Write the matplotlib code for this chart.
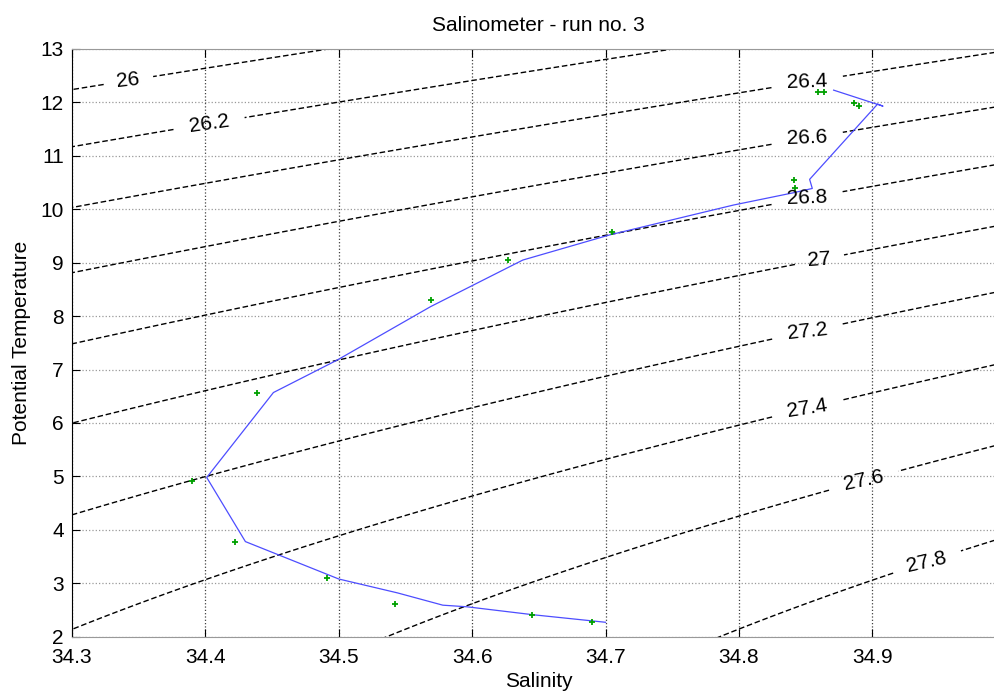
import numpy as np
import matplotlib.pyplot as plt

plt.rcParams['font.family'] = ['Liberation Sans', 'DejaVu Sans']

# CTD profile (potential temperature vs salinity), surface to bottom
ctd_sal = [34.871, 34.908, 34.904, 34.853, 34.855, 34.841, 34.796, 34.703,
           34.638, 34.569, 34.499, 34.451, 34.401, 34.430, 34.456, 34.500,
           34.544, 34.578, 34.596, 34.646, 34.700]
ctd_theta = [12.23, 11.93, 11.97, 10.56, 10.39, 10.31, 10.08, 9.52,
             9.05, 8.18, 7.18, 6.57, 4.98, 3.78, 3.52, 3.08,
             2.82, 2.59, 2.56, 2.41, 2.27]

# bottle samples run on the salinometer
btl_sal = [34.859, 34.864, 34.886, 34.890, 34.841, 34.842, 34.705, 34.627,
           34.569, 34.439, 34.390, 34.422, 34.491, 34.542, 34.645, 34.690]
btl_theta = [12.20, 12.20, 11.98, 11.94, 10.55, 10.39, 9.58, 9.06,
             8.31, 6.56, 4.91, 3.77, 3.09, 2.61, 2.41, 2.27]

sigma_levels = [26.0, 26.2, 26.4, 26.6, 26.8, 27.0, 27.2, 27.4, 27.6, 27.8]
label_pos = [(34.343, 12.33), (34.403, 11.58), (34.852, 12.29), (34.852, 11.24),
             (34.852, 10.12), (34.861, 9.0), (34.852, 7.65), (34.852, 6.2),
             (34.895, 4.82), (34.943, 3.29)]
label_rot = [6, 8, 2, 2, 2, 4, 6, 9, 12, 13]


def sigma_theta(S, T):
    # UNESCO EOS-80 at zero pressure, minus 1000
    rw = (999.842594 + 6.793952e-2 * T - 9.095290e-3 * T**2 + 1.001685e-4 * T**3
          - 1.120083e-6 * T**4 + 6.536332e-9 * T**5)
    a = 0.824493 - 4.0899e-3 * T + 7.6438e-5 * T**2 - 8.2467e-7 * T**3 + 5.3875e-9 * T**4
    b = -5.72466e-3 + 1.0227e-4 * T - 1.6546e-6 * T**2
    return rw + a * S + b * S**1.5 + 4.8314e-4 * S**2 - 1000.0


fig = plt.figure(figsize=(9.95, 6.95), dpi=100)
ax = fig.add_axes([72 / 995, 1 - 636.7 / 695, 933.7 / 995, (636.7 - 49) / 695])

sg, tg = np.meshgrid(np.linspace(34.2, 35.1, 400), np.linspace(1.5, 13.5, 400))
cs = ax.contour(sg, tg, sigma_theta(sg, tg), levels=sigma_levels, colors='k',
                linewidths=1.0, linestyles=[(0, (4, 2))])
labels = ax.clabel(cs, manual=label_pos, fmt='%g', fontsize=15, inline=True, inline_spacing=8)
rot_of = {lev: r for lev, r in zip(sigma_levels, label_rot)}
for t in labels:
    t.set_rotation(rot_of[float(t.get_text())])

ax.plot(ctd_sal, ctd_theta, color=(0.3, 0.3, 1.0), lw=0.9)
ax.plot(btl_sal, btl_theta, '+', color='#00a000', ms=4, mew=1.3, ls='none')

ax.set_xlim(34.3, 35.0)
ax.set_ylim(2, 13)
ax.set_xticks([34.3, 34.4, 34.5, 34.6, 34.7, 34.8, 34.9])
ax.set_yticks(range(2, 14))
ax.tick_params(direction='in', length=6, top=True, labelsize=15)
ax.tick_params(axis='x', pad=8)
ax.tick_params(axis='y', pad=6)
ax.xaxis.grid(True, linestyle=':', color='0.25', lw=0.9)
ax.yaxis.grid(True, linestyle=':', color='0.6', lw=0.9)
ax.set_axisbelow(True)
for side in ('top', 'bottom'):
    ax.spines[side].set_color('0.6')
ax.spines['right'].set_visible(False)

ax.set_title('Salinometer - run no. 3', fontsize=15, pad=13)
ax.set_xlabel('Salinity', fontsize=15, labelpad=4)
ax.set_ylabel('Potential Temperature', fontsize=15, labelpad=7)

fig.savefig('out.png', dpi=100)
